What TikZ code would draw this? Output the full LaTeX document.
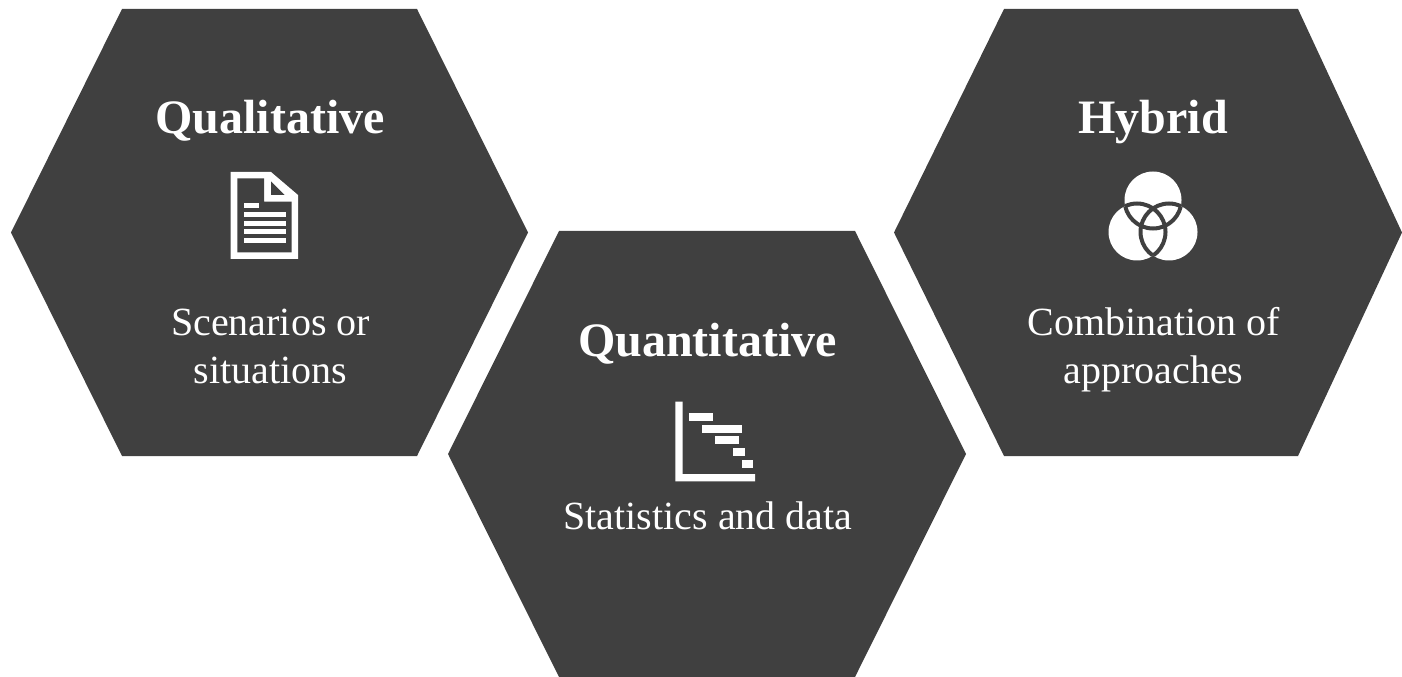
\documentclass[tikz,border=0pt]{standalone}
\usepackage{fontspec}
\setmainfont{Liberation Serif}
\definecolor{hexdark}{HTML}{404040}
\tikzset{
  hexbox/.style={fill=hexdark,draw=none},
  icon/.style={fill=white,draw=none},
  cutout/.style={fill=hexdark,draw=none},
  vennline/.style={draw=hexdark,line width=3pt},
  headtext/.style={text=white,anchor=base,inner sep=0pt,font=\bfseries\fontsize{36}{40}\selectfont},
  bodytext/.style={text=white,anchor=base,inner sep=0pt,font=\fontsize{30}{34}\selectfont},
}
\begin{document}
\begin{tikzpicture}[x=.75pt,y=-.75pt]
\useasboundingbox (0,0) rectangle (1402,677);
% hexagons
\path[hexbox] (11,232.5) -- (122,9) -- (417,9) -- (528,232.5) -- (417,456) -- (122,456) -- cycle;
\path[hexbox] (448,454) -- (559,231) -- (855,231) -- (966,454) -- (855,677) -- (559,677) -- cycle;
\path[hexbox] (894,232.5) -- (1004,9) -- (1298,9) -- (1402,232.5) -- (1298,456) -- (1004,456) -- cycle;
% text
\node[headtext] (qualhead) at (270,133.5) {Qualitative};
\node[bodytext] (qualbody1) at (270.5,335) {Scenarios or};
\node[bodytext] (qualbody2) at (270.5,383) {situations};
\node[headtext] (quanhead) at (707.5,356) {Quantitative};
\node[bodytext] (quanbody) at (708,529) {Statistics and data};
\node[headtext] (hybhead) at (1153,133.5) {Hybrid};
\node[bodytext] (hybbody1) at (1153.5,335) {Combination of};
\node[bodytext] (hybbody2) at (1153.5,383) {approaches};
% document icon
\path[icon] (230.7,172) -- (271,172) -- (298,195) -- (298,259) -- (230.7,259) -- cycle;
\path[cutout] (237.3,178.3) -- (264,178.3) -- (264,201.7) -- (291.7,201.7) -- (291.7,252.3) -- (237.3,252.3) -- cycle;
\path[cutout] (271,181.3) -- (271,195) -- (284.7,195) -- cycle;
\path[icon] (244,203) rectangle (259,208);
\path[icon] (244,212) rectangle (286,217);
\path[icon] (244,221) rectangle (286,226);
\path[icon] (244,229) rectangle (286,234);
\path[icon] (244,238) rectangle (286,243);
% gantt icon
\path[icon] (675.3,401.7) -- (682.7,401.7) -- (682.7,474) -- (755,474) -- (755,481.3) -- (675.3,481.3) -- cycle;
\path[icon] (689,413) rectangle (713,421);
\path[icon] (702,425) rectangle (742,433);
\path[icon] (715,436) rectangle (739,444);
\path[icon] (733,448) rectangle (745,456);
\path[icon] (742,460) rectangle (753,468);
% venn icon
\coordinate (vt) at (1153,200);
\coordinate (vl) at (1137,232);
\coordinate (vr) at (1169,232);
\def\vr{28.5}
\path[icon] (vt) circle (\vr);
\path[icon] (vl) circle (\vr);
\path[icon] (vr) circle (\vr);
\begin{scope}
  \clip (vl) circle (\vr) (vr) circle (\vr);
  \path[vennline] (vt) circle (\vr);
\end{scope}
\begin{scope}
  \clip (vt) circle (\vr) (vr) circle (\vr);
  \path[vennline] (vl) circle (\vr);
\end{scope}
\begin{scope}
  \clip (vt) circle (\vr) (vl) circle (\vr);
  \path[vennline] (vr) circle (\vr);
\end{scope}
\end{tikzpicture}
\end{document}
